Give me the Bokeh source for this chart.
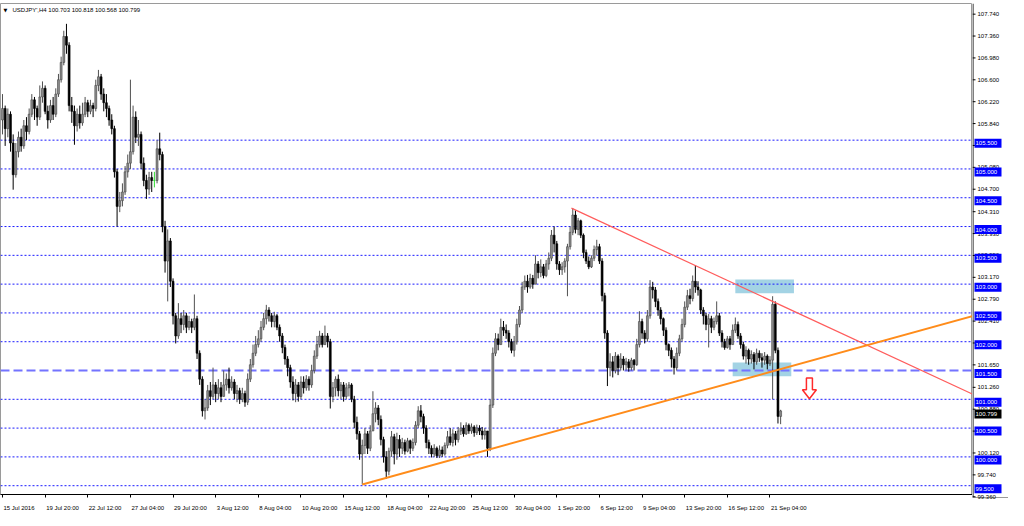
from bokeh.plotting import figure
from bokeh.layouts import row
from bokeh.models import (ColumnDataSource, FixedTicker, Label, Span, Range1d, LinearAxis)
from bokeh.core.properties import value
from bokeh.embed import file_html
from bokeh.resources import INLINE

# ---------------- data ----------------
chart_title = "USDJPY',H4  100.703 100.818 100.568 100.799"
time_labels = ["15 Jul 2016", "19 Jul 20:00", "22 Jul 12:00", "27 Jul 04:00", "29 Jul 20:00",
               "3 Aug 12:00", "8 Aug 04:00", "10 Aug 20:00", "15 Aug 12:00", "18 Aug 04:00",
               "22 Aug 20:00", "25 Aug 12:00", "30 Aug 04:00", "1 Sep 20:00", "6 Sep 12:00",
               "9 Sep 04:00", "13 Sep 20:00", "16 Sep 12:00", "21 Sep 04:00"]
bars_per_label = 16

first_open = 105.85
close = [
    106.05, 105.70, 105.95, 105.45, 104.90, 105.30, 105.55, 105.40, 105.75, 105.65,
    105.95, 106.20, 106.05, 105.90, 106.25, 106.40, 106.00, 105.85, 106.10, 105.95,
    106.30, 106.55, 106.85, 107.30, 107.15, 106.10, 106.00, 105.75, 105.95, 105.80,
    105.95, 106.15, 106.00, 106.10, 106.05, 106.45, 106.60, 106.30, 106.15, 106.05,
    105.85, 105.70, 104.95, 104.35, 104.45, 104.60, 104.95, 105.10, 105.30, 105.90,
    105.55, 105.60, 105.10, 104.80, 104.65, 104.85, 104.80, 104.80, 105.35, 105.25,
    104.00, 103.40, 103.75, 103.05, 102.45, 102.10, 102.40, 102.30, 102.45, 102.25,
    102.35, 102.25, 102.40, 101.80, 101.35, 100.80, 100.85, 101.15, 101.05, 101.25,
    101.10, 101.20, 101.05, 101.25, 101.35, 101.20, 101.30, 101.10, 101.15, 101.00,
    101.10, 100.95, 101.35, 101.60, 101.80, 101.95, 102.05, 102.25, 102.40, 102.55,
    102.45, 102.35, 102.45, 102.25, 102.10, 101.90, 101.70, 101.55, 101.30, 101.10,
    101.25, 101.05, 101.30, 101.20, 101.35, 101.25, 101.50, 101.75, 101.95, 102.10,
    101.95, 102.10, 102.00, 101.05, 101.20, 101.35, 101.15, 101.25, 101.05, 101.20,
    101.25, 101.00, 100.60, 100.40, 100.05, 100.20, 100.40, 100.15, 100.45, 100.75,
    100.85, 100.65, 100.30, 100.00, 99.75, 100.10, 100.35, 100.05, 100.30, 100.15,
    100.25, 100.10, 100.28, 100.15, 100.25, 100.55, 100.80, 100.70, 100.50, 100.25,
    100.15, 100.05, 100.15, 100.02, 100.12, 100.05, 100.20, 100.35, 100.25, 100.40,
    100.30, 100.45, 100.50, 100.40, 100.55, 100.45, 100.52, 100.42, 100.50, 100.45,
    100.38, 100.45, 100.15, 100.90, 101.80, 102.05, 101.95, 102.25, 102.20, 102.15,
    102.00, 101.85, 102.00, 102.30, 102.55, 102.95, 103.05, 102.95, 103.10, 103.00,
    103.35, 103.20, 103.30, 103.15, 103.35, 103.45, 103.85, 103.70, 103.35, 103.25,
    103.30, 103.40, 103.65, 103.90, 104.20, 103.95, 104.10, 103.85, 103.55, 103.40,
    103.30, 103.45, 103.60, 103.65, 103.40, 102.80, 102.15, 101.55, 101.65, 101.50,
    101.75, 101.55, 101.70, 101.60, 101.65, 101.55, 101.68, 101.60, 101.95, 102.35,
    102.15, 102.05, 102.45, 102.95, 102.90, 102.70, 102.55, 102.40, 102.20, 101.95,
    101.85, 101.70, 101.55, 101.80, 102.05, 102.30, 102.60, 102.80, 102.75, 103.05,
    102.95, 102.90, 102.55, 102.45, 102.30, 102.40, 102.25, 102.35, 102.45, 102.15,
    102.00, 101.90, 102.05, 101.95, 102.20, 102.30, 102.10, 101.95, 101.75, 101.85,
    101.70, 101.78, 101.65, 101.80, 101.72, 101.68, 101.75, 101.62, 101.68,
    102.65, 101.85, 100.703, 100.799]
high = [
    106.30, 106.10, 106.05, 106.00, 105.60, 105.45, 105.65, 105.70, 105.85, 105.90,
    106.05, 106.30, 106.25, 106.10, 106.45, 106.52, 106.45, 106.10, 106.20, 106.25,
    106.40, 106.65, 106.95, 107.40, 107.52, 107.20, 106.25, 106.10, 106.05, 106.10,
    106.15, 106.25, 106.20, 106.20, 106.15, 106.55, 106.72, 106.65, 106.40, 106.30,
    106.10, 105.95, 105.75, 105.00, 104.60, 104.75, 105.05, 105.25, 106.55, 106.10,
    106.00, 105.85, 105.65, 105.20, 104.90, 104.95, 104.95, 104.95, 105.50, 105.63,
    105.30, 104.10, 103.95, 103.80, 103.10, 102.50, 102.67, 102.50, 102.55, 102.50,
    102.45, 102.40, 102.82, 102.45, 101.85, 101.40, 101.00, 101.25, 101.30, 101.55,
    101.30, 101.35, 101.30, 101.50, 101.45, 101.55, 101.40, 101.35, 101.25, 101.20,
    101.20, 101.15, 101.45, 101.70, 101.95, 102.10, 102.20, 102.36, 102.50, 102.64,
    102.60, 102.50, 102.52, 102.48, 102.30, 102.15, 101.95, 101.75, 101.60, 101.40,
    101.35, 101.30, 101.40, 101.40, 101.42, 101.40, 101.60, 101.85, 102.10, 102.19,
    102.15, 102.28, 102.15, 102.05, 101.30, 101.40, 101.43, 101.30, 101.30, 101.28,
    101.30, 101.28, 101.06, 100.70, 100.45, 100.30, 100.50, 100.45, 100.55, 101.14,
    100.95, 100.90, 100.72, 100.35, 100.10, 100.16, 100.45, 100.40, 100.42, 100.38,
    100.33, 100.30, 100.33, 100.30, 100.32, 100.62, 100.88, 100.90, 100.75, 100.55,
    100.30, 100.20, 100.22, 100.18, 100.20, 100.18, 100.25, 100.45, 100.50, 100.48,
    100.45, 100.52, 100.60, 100.55, 100.60, 100.58, 100.58, 100.55, 100.56, 100.55,
    100.52, 100.50, 100.45, 101.00, 101.90, 102.15, 102.14, 102.40, 102.36, 102.30,
    102.20, 102.05, 102.10, 102.40, 102.62, 103.04, 103.15, 103.16, 103.18, 103.16,
    103.50, 103.40, 103.43, 103.35, 103.42, 103.55, 103.94, 104.00, 103.75, 103.40,
    103.38, 103.45, 103.70, 104.00, 104.32, 104.28, 104.15, 104.12, 103.88, 103.60,
    103.48, 103.50, 103.67, 103.77, 103.70, 103.45, 102.85, 102.20, 101.80, 101.75,
    101.82, 101.78, 101.80, 101.75, 101.72, 101.70, 101.72, 101.70, 102.05, 102.53,
    102.40, 102.20, 102.55, 103.07, 103.04, 102.95, 102.75, 102.60, 102.42, 102.25,
    101.97, 101.90, 101.75, 101.90, 102.12, 102.40, 102.70, 102.90, 102.92, 103.15,
    103.33, 103.05, 102.92, 102.60, 102.50, 102.48, 102.45, 102.42, 102.70, 102.50,
    102.20, 102.05, 102.10, 102.10, 102.30, 102.42, 102.35, 102.15, 102.00, 101.92,
    101.88, 101.85, 101.82, 101.88, 101.85, 101.80, 101.82, 101.78, 101.75,
    102.79, 102.70, 101.90, 100.818]
low = [
    105.60, 105.40, 105.55, 105.30, 104.64, 104.85, 105.20, 105.30, 105.35, 105.50,
    105.60, 105.90, 105.85, 105.75, 105.85, 106.15, 105.95, 105.70, 105.80, 105.85,
    105.90, 106.25, 106.50, 106.80, 107.00, 106.00, 105.80, 105.42, 105.65, 105.70,
    105.75, 105.90, 105.90, 105.95, 105.90, 106.00, 106.35, 106.20, 106.00, 105.90,
    105.75, 105.60, 104.85, 104.00, 104.25, 104.35, 104.55, 104.85, 105.00, 105.25,
    105.45, 105.40, 105.00, 104.70, 104.48, 104.55, 104.60, 104.68, 104.75, 105.15,
    103.90, 103.20, 102.70, 102.95, 102.30, 101.97, 102.05, 102.15, 102.20, 102.15,
    102.20, 102.15, 102.20, 101.70, 101.25, 100.70, 100.65, 100.80, 100.90, 101.00,
    100.95, 101.00, 100.95, 101.05, 101.15, 101.10, 101.15, 101.00, 100.95, 100.92,
    100.95, 100.87, 100.90, 101.30, 101.55, 101.75, 101.90, 102.00, 102.20, 102.30,
    102.35, 102.25, 102.25, 102.20, 102.00, 101.80, 101.60, 101.40, 101.20, 100.98,
    100.95, 100.96, 101.00, 101.10, 101.15, 101.15, 101.20, 101.45, 101.70, 101.90,
    101.90, 101.95, 101.90, 100.84, 100.95, 101.05, 101.05, 101.00, 100.96, 101.00,
    101.05, 100.95, 100.50, 100.30, 99.95, 99.52, 100.05, 100.05, 100.10, 100.45,
    100.60, 100.55, 100.20, 99.90, 99.62, 99.68, 100.00, 99.87, 99.95, 100.00,
    100.05, 100.04, 100.08, 100.05, 100.10, 100.20, 100.50, 100.60, 100.40, 100.15,
    100.05, 99.99, 100.00, 99.98, 99.98, 100.00, 100.02, 100.15, 100.20, 100.18,
    100.20, 100.25, 100.38, 100.35, 100.38, 100.40, 100.40, 100.35, 100.38, 100.38,
    100.30, 100.30, 100.00, 100.10, 100.85, 101.75, 101.85, 101.95, 102.10, 102.05,
    101.90, 101.80, 101.74, 101.95, 102.25, 102.50, 102.90, 102.85, 102.92, 102.92,
    103.00, 103.10, 103.12, 103.10, 103.12, 103.25, 103.40, 103.55, 103.25, 103.16,
    103.16, 103.20, 102.79, 103.60, 103.85, 103.88, 103.85, 103.80, 103.45, 103.35,
    103.26, 103.28, 103.40, 103.50, 103.35, 102.70, 102.05, 101.23, 101.40, 101.38,
    101.45, 101.42, 101.50, 101.50, 101.50, 101.48, 101.50, 101.50, 101.58, 101.90,
    102.05, 101.97, 102.00, 102.40, 102.75, 102.60, 102.45, 102.30, 102.10, 101.85,
    101.75, 101.55, 101.43, 101.50, 101.75, 102.00, 102.25, 102.55, 102.65, 102.70,
    102.85, 102.80, 102.48, 102.30, 102.20, 101.90, 102.15, 102.20, 102.30, 102.10,
    101.90, 101.86, 101.88, 101.86, 101.95, 102.15, 102.05, 101.88, 101.69, 101.62,
    101.60, 101.62, 101.52, 101.60, 101.65, 101.55, 101.60, 101.52, 101.58,
    101.00, 101.80, 100.58, 100.568]

dotted_levels = [105.5, 105.0, 104.5, 104.0, 103.5, 103.0, 102.5, 102.0, 101.0, 100.5, 100.0, 99.5]
dashed_level = 101.5
price_ticks = [107.74, 107.36, 106.98, 106.60, 106.22, 105.84, 105.46, 105.08, 104.70, 104.31,
               103.93, 103.55, 103.17, 102.79, 102.41, 102.03, 101.65, 101.26, 100.88, 100.50,
               100.12, 99.74, 99.36]
last_price = 100.799

resistance_bars = [213.5, 364.5]
resistance_prices = [104.32, 101.08]
support_bars = [135.0, 364.5]
support_prices = [99.52, 102.45]

zone_start_bar = [275.0, 274.0]
zone_end_bar = [297.0, 296.0]
zone_top = [103.08, 101.64]
zone_bottom = [102.84, 101.40]

arrow_bar = 302.8
arrow_top = 101.37
arrow_tip = 101.01

assert len(close) == len(high) == len(low)

# ---------------- layout constants ----------------
FRAME_W, FRAME_H, SIDE_W = 972, 491, 36
TOP, BOTTOM = 3, 16
X0, X1 = -0.75, 364.0
Y0, Y1 = 99.347, 107.873
FONT = "Liberation Sans"
FS = "6px"
FS_PX = 6.0
xpp = (X1 - X0) / FRAME_W      # bars per pixel
ypp = (Y1 - Y0) / FRAME_H      # price per pixel

# approximate advance widths (em) of Liberation Sans, to left-align time labels at their tick
_cw = {" ": 0.278, ":": 0.278, "J": 0.5, "l": 0.222, "A": 0.667, "S": 0.667}
def text_px(s):
    return sum(_cw.get(ch, 0.556) for ch in s) * FS_PX

y_range = Range1d(Y0, Y1)

p = figure(frame_width=FRAME_W, frame_height=FRAME_H,
           x_range=Range1d(X0, X1), y_range=y_range, y_axis_type=None,
           output_backend="svg", toolbar_location=None,
           min_border_left=0, min_border_top=TOP, min_border_right=0, min_border_bottom=BOTTOM,
           background_fill_color="white", border_fill_color="white")
p.grid.visible = False
p.outline_line_color = "#9a9a9a"

# x axis: tick marks
n_lab = len(time_labels)
tick_pos = [i * bars_per_label for i in range(n_lab)]
p.xaxis.ticker = FixedTicker(ticks=tick_pos)
p.xaxis.major_label_overrides = {t: "" for t in tick_pos}
p.xaxis.major_label_text_font_size = "1px"
p.xaxis.major_label_standoff = 0
p.xaxis.major_tick_in = 0
p.xaxis.major_tick_out = 3
p.xaxis.major_tick_line_color = "black"
p.xaxis.minor_tick_line_color = None
p.xaxis.axis_line_color = "black"

# x axis: labels, starting at their tick (as in MetaTrader)
label_pos = [round(t + (text_px(lab) / 2 + 1) * xpp, 3) for t, lab in zip(tick_pos, time_labels)]
lab_axis = LinearAxis(ticker=FixedTicker(ticks=label_pos),
                      major_label_overrides={lp: lab for lp, lab in zip(label_pos, time_labels)},
                      major_tick_line_color=None, minor_tick_line_color=None,
                      axis_line_color=None, major_label_standoff=1,
                      major_label_text_font=FONT, major_label_text_font_size=FS,
                      major_label_text_color="black")
p.add_layout(lab_axis, "below")

# zones (background)
p.quad(left=zone_start_bar, right=zone_end_bar, top=zone_top, bottom=zone_bottom,
       fill_color="#a3d3e4", line_color=None, level="underlay")

# horizontal levels
for lv in dotted_levels:
    p.add_layout(Span(location=lv, dimension="width", line_color="#1a1aff",
                      line_dash="2 2", line_width=1, level="underlay"))
p.add_layout(Span(location=dashed_level, dimension="width", line_color="#7373ff",
                  line_dash="9 4", line_width=2, level="underlay"))

# candles
n = len(close)
opens = [first_open] + close[:-1]
bars = list(range(n))
wick_c, body_fill, body_line, b_top, b_bot = [], [], [], [], []
for o, c in zip(opens, close):
    if c > o:
        wick_c.append("#505050"); body_fill.append("#8e8e8e"); body_line.append("#444444")
    elif c < o:
        wick_c.append("#000000"); body_fill.append("#000000"); body_line.append("#000000")
    else:
        wick_c.append("#33dd33"); body_fill.append("#33dd33"); body_line.append("#33dd33")
    b_top.append(max(o, c)); b_bot.append(min(o, c))

src = ColumnDataSource(dict(x=bars, o=opens, c=close, h=high, l=low, top=b_top, bot=b_bot,
                            wc=wick_c, bf=body_fill, bl=body_line))
p.segment(x0="x", y0="l", x1="x", y1="h", line_color="wc", line_width=1, source=src)
p.vbar(x="x", width=0.72, top="top", bottom="bot", fill_color="bf", line_color="bl",
       line_width=0.6, source=src)

# trend lines
p.line(resistance_bars, resistance_prices, line_color="#ff5c5c", line_width=1.2)
p.line(support_bars, support_prices, line_color="#ff8c1a", line_width=2)

# red hollow arrow
stem, head = 3 * xpp, 7 * xpp
head_h = 9 * ypp
neck = arrow_tip + head_h
ax = [arrow_bar - stem, arrow_bar + stem, arrow_bar + stem, arrow_bar + head,
      arrow_bar, arrow_bar - head, arrow_bar - stem]
ay = [arrow_top, arrow_top, neck, neck, arrow_tip, neck, neck]
p.patch(ax, ay, fill_color="white", line_color="#ff2a2a", line_width=1.5)

# title
p.add_layout(Label(x=3, y=FRAME_H - 6, x_units="screen", y_units="screen", text="\u25BC",
                   text_font="DejaVu Sans", text_font_size="5px", text_color="black",
                   text_baseline="middle"))
p.add_layout(Label(x=12, y=FRAME_H - 6, x_units="screen", y_units="screen", text=chart_title,
                   text_font=FONT, text_font_size=FS, text_color="black",
                   text_baseline="middle"))

# ---------------- price scale (right) ----------------
SY0, SY1 = Y0 - BOTTOM * ypp, Y1 + TOP * ypp
side = figure(frame_width=SIDE_W, frame_height=FRAME_H + TOP + BOTTOM,
              x_range=Range1d(0, SIDE_W), y_range=Range1d(SY0, SY1),
              x_axis_type=None, y_axis_type=None,
              output_backend="svg", toolbar_location=None,
              min_border_left=0, min_border_top=0, min_border_right=0, min_border_bottom=0,
              background_fill_color="white", border_fill_color="white")
side.grid.visible = False
side.outline_line_color = None
side.segment(x0=[0.5], y0=[Y0], x1=[0.5], y1=[SY1], line_color="black", line_width=1)
side.segment(x0=[0], y0=[Y0], x1=[SIDE_W], y1=[Y0], line_color="#9a9a9a", line_width=1)

tick_text = [f"{t:.3f}" for t in price_ticks]
tsrc = ColumnDataSource(dict(y=price_ticks, t=tick_text))
side.segment(x0=0, y0="y", x1=3, y1="y", line_color="black", line_width=1, source=tsrc)
side.text(x=5, y="y", text="t", text_font=value(FONT), text_font_size=value(FS),
          text_color="black", text_baseline="middle", text_align="left", source=tsrc)

lvl_all = dotted_levels + [dashed_level]
lsrc = ColumnDataSource(dict(y=lvl_all, t=[f"{v:.3f}" for v in lvl_all]))
side.rect(x=15.5, y="y", width=27, height=9, height_units="screen",
          fill_color="#0000ff", line_color=None, source=lsrc)
side.text(x=3, y="y", text="t", text_font=value(FONT), text_font_size=value(FS),
          text_color="white", text_baseline="middle", text_align="left", source=lsrc)

psrc = ColumnDataSource(dict(y=[last_price], t=[f"{last_price:.3f}"]))
side.rect(x=15.5, y="y", width=27, height=9, height_units="screen",
          fill_color="#000000", line_color=None, source=psrc)
side.text(x=3, y="y", text="t", text_font=value(FONT), text_font_size=value(FS),
          text_color="white", text_baseline="middle", text_align="left", source=psrc)

layout = row(p, side, spacing=0)
open("out.html", "w").write(file_html(layout, INLINE))
